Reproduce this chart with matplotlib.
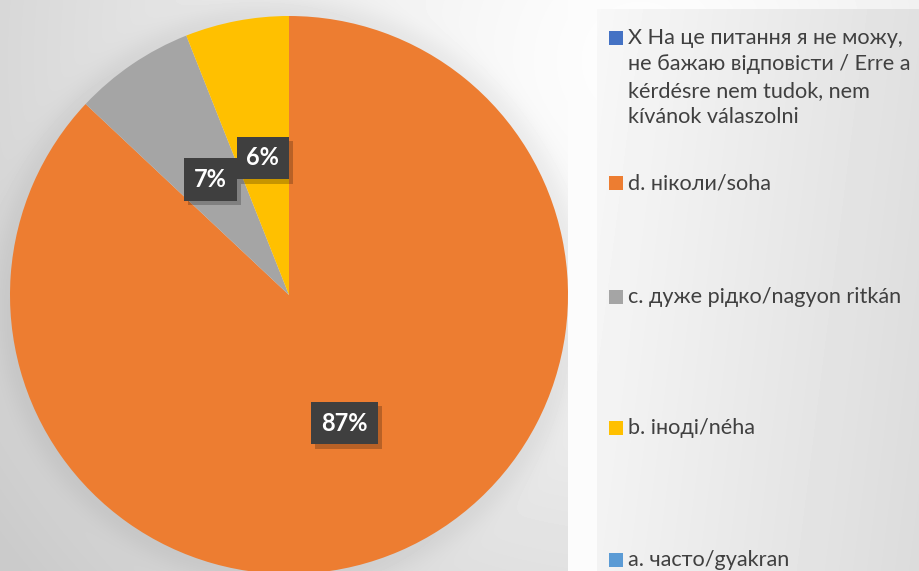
import numpy as np
import matplotlib
matplotlib.use("Agg")
import matplotlib.pyplot as plt
from matplotlib import patheffects as pe
from matplotlib.patches import Rectangle

labels = ["X На це питання я не можу,\nне бажаю відповісти / Erre a\nkérdésre nem tudok, nem\nkívánok válaszolni",
          "d. ніколи/soha",
          "c. дуже рідко/nagyon ritkán",
          "b. іноді/néha",
          "a. часто/gyakran"]
values = [0, 87, 7, 6, 0]
colors = ["#4472C4", "#ED7D31", "#A5A5A5", "#FFC000", "#5B9BD5"]

W, H = 920, 571
fig = plt.figure(figsize=(W / 100, H / 100), dpi=100)

# background
bg = fig.add_axes([0, 0, 1, 1], zorder=0)
bg.set_axis_off()
yy, xx = np.mgrid[0:H, 0:W]
d = np.hypot(xx - 640, yy - 60)
img = 0.995 - 0.2 * np.clip(d / 800, 0, 1) ** 1.3
rr = np.hypot(xx - 289, yy - 295)
img = img - 0.05 * np.exp(-((rr - 279) / 18) ** 2) * (rr > 275)
panel = (xx >= 597) & (yy >= 9)
pg = 0.97 - 0.09 * ((xx - 597) / (W - 597)) - 0.02 * (yy / H)
img = np.where(panel, pg, img)
strip = (xx >= 568) & (xx < 597)
img = np.where(strip, np.maximum(img, 0.985), img)
bg.imshow(np.clip(img, 0, 1), cmap="gray", vmin=0, vmax=1, extent=[0, W, H, 0], aspect="auto", interpolation="bilinear")
bg.set_xlim(0, W)
bg.set_ylim(H, 0)

# pie
R = 279
cx, cy = 289, 295
ax = fig.add_axes([(cx - R) / W, (H - cy - R) / H, 2 * R / W, 2 * R / H], zorder=1)
ax.set_axis_off()


def fmt(p):
    return f"{p:.0f}%" if p > 0.5 else ""


wedges, texts, autotexts = ax.pie(values, colors=colors, startangle=90, counterclock=False,
                                  autopct=fmt, pctdistance=0.5, radius=1,
                                  wedgeprops=dict(linewidth=0),
                                  textprops=dict(color="white", fontsize=17, fontweight="bold", family="Lato"))
ax.set_xlim(-1, 1)
ax.set_ylim(-1, 1)
ax.set_aspect("equal")
for t in autotexts:
    if t.get_text():
        t.set_bbox(dict(boxstyle="square,pad=0.42", facecolor="#3f3f3f", edgecolor="none", linewidth=0))
        t.get_bbox_patch().set_path_effects([pe.SimplePatchShadow(offset=(3, -3), alpha=0.22, shadow_rgbFace="black"), pe.Normal()])

# legend (manual placement following the reference's layout)
ys = [28, 183, 297, 428, 560]
for lab, col, y, v in zip(labels, colors, ys, values):
    if "\n" in lab:
        fig.text(628 / W, 1 - y / H, lab, ha="left", va="top", fontsize=15.6, color="#404040",
                 family="Lato", linespacing=1.4)
        sq_y = 38
    else:
        fig.text(628 / W, 1 - y / H, lab, ha="left", va="center", fontsize=15.6, color="#404040",
                 family="Lato")
        sq_y = y
    fig.patches.append(Rectangle((609 / W, 1 - (sq_y + 7) / H), 14 / W, 14 / H,
                                 transform=fig.transFigure, facecolor=col, edgecolor="none", zorder=2))

fig.savefig("out.png", dpi=100)
